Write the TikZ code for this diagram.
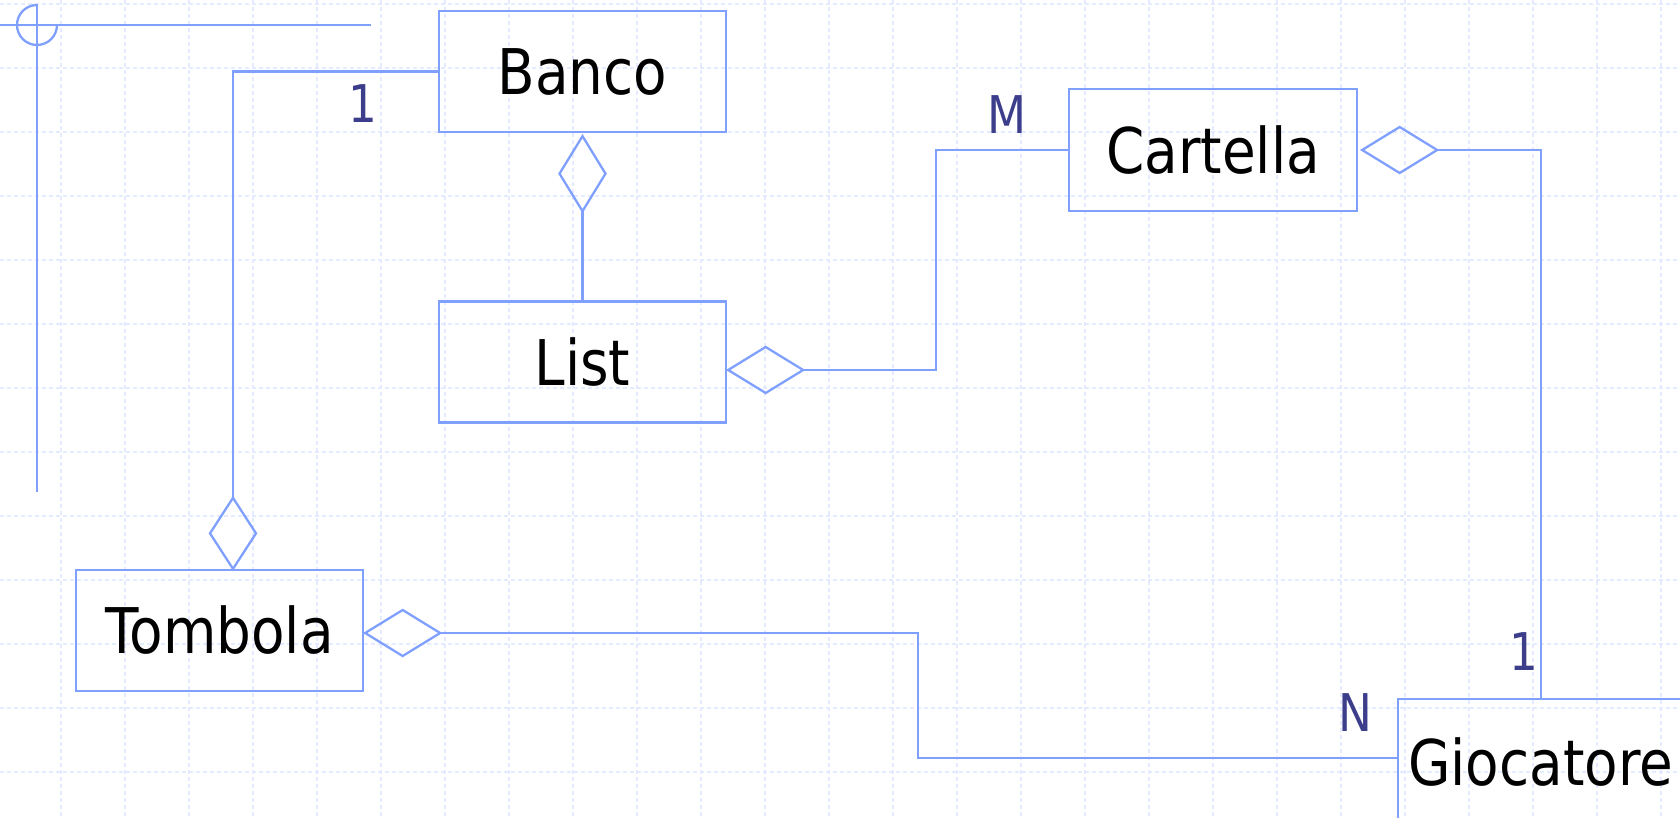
\documentclass[tikz,border=0pt]{standalone}
\usepackage{fontspec}
\setmainfont{DejaVu Sans}[FakeStretch=0.87]
\usetikzlibrary{calc}
\definecolor{umlline}{RGB}{128,160,255}
\definecolor{gridc}{RGB}{228,234,255}
\definecolor{labc}{RGB}{60,62,140}
\begin{document}
\begin{tikzpicture}[x=1pt,y=-1pt,
  gridline/.style={draw=gridc, line width=1.3pt, dash pattern=on 4pt off 3pt},
  conn/.style={draw=umlline, line width=2.3pt, line join=miter},
  cls/.style={draw=umlline, line width=2.3pt, minimum width=287pt, minimum height=121pt, inner sep=0pt, font=\fontsize{63}{70}\selectfont},
  mult/.style={text=labc, inner sep=0pt, font=\fontsize{52}{60}\selectfont}]
\useasboundingbox (0,0) rectangle (1680,818);
\clip (0,0) rectangle (1680,818);
% grid
\foreach \i in {0,...,25} \draw[gridline] ({61+64*\i},0) -- ({61+64*\i},818);
\foreach \j in {0,...,12} \draw[gridline] (0,{4+64*\j}) -- (1680,{4+64*\j});
% corner decoration
\draw[conn] (0,25) -- (371,25);
\draw[conn] (37,4) -- (37,492);
\draw[conn] (37,5) arc[start angle=-90, end angle=-360, radius=20];
% classes
\node[cls] (banco) at (582.5,71.5) {Banco};
\node[cls] (list) at (582.5,362) {List};
\node[cls, minimum width=288pt, minimum height=122pt] (cartella) at (1213,150) {Cartella};
\node[cls] (tombola) at (219.5,630.5) {Tombola};
\node[cls, anchor=north west, minimum width=0pt, minimum height=0pt, inner xsep=10pt, inner ysep=0pt, text width=380pt, align=left, text height=86pt, text depth=60pt] (gioc) at (1397,698) {Giocatore};
% Banco - List
\coordinate (bd1) at ($(banco.south)+(0,3)$);
\coordinate (bd2) at ($(bd1)+(0,75)$);
\draw[conn] (bd1) -- ++(23,37.5) -- ++(-23,37.5) -- ++(-23,-37.5) -- cycle;
\draw[conn] (bd2) -- (list.north);
% Banco - Tombola
\coordinate (tn1) at ($(tombola.north)+(13.5,0)$);
\coordinate (tn2) at ($(tn1)+(0,-71)$);
\draw[conn] (tn1) -- ++(23,-35.5) -- ++(-23,-35.5) -- ++(-23,35.5) -- cycle;
\draw[conn] (banco.west) -| (tn2);
% List - Cartella
\coordinate (ld1) at ($(list.east)+(1,8)$);
\coordinate (ld2) at ($(ld1)+(75,0)$);
\draw[conn] (ld1) -- ++(37.5,-23) -- ++(37.5,23) -- ++(-37.5,23) -- cycle;
\coordinate (lc) at (936,0);
\draw[conn] (ld2) -| (lc |- cartella.west) -- (cartella.west);
% Cartella - Giocatore
\coordinate (cd1) at ($(cartella.east)+(4,0)$);
\coordinate (cd2) at ($(cd1)+(75,0)$);
\draw[conn] (cd1) -- ++(37.5,-23) -- ++(37.5,23) -- ++(-37.5,23) -- cycle;
\coordinate (gtop) at ($(gioc.north west)+(144,0)$);
\draw[conn] (cd2) -| (gtop);
% Tombola - Giocatore
\coordinate (td1) at ($(tombola.east)+(1,2.5)$);
\coordinate (td2) at ($(td1)+(75,0)$);
\draw[conn] (td1) -- ++(37.5,-23) -- ++(37.5,23) -- ++(-37.5,23) -- cycle;
\coordinate (gleft) at ($(gioc.north west)+(0,60)$);
\coordinate (tc) at (918,0);
\draw[conn] (td2) -- (tc |- td2) |- (gleft);
% multiplicities
\node[mult] (m1) at (363,104) {1};
\node[mult] (mM) at (1007,115) {M};
\node[mult] (m2) at (1524,652) {1};
\node[mult] (mN) at (1355,713) {N};
\end{tikzpicture}
\end{document}
